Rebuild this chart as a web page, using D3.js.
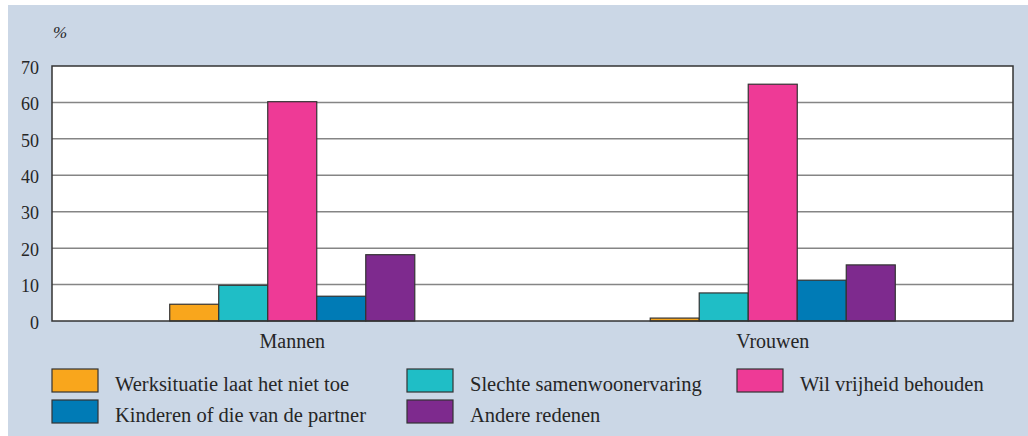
<!DOCTYPE html>
<html><head><meta charset="utf-8">
<script src="https://cdn.jsdelivr.net/npm/d3@7"></script>
<style>
body{margin:0;background:#fff} svg{display:block}
.sf{font-family:"Liberation Serif";}
</style>
</head><body><svg id="c" width="1028" height="436"></svg>
<script>
const categories = ["Mannen", "Vrouwen"];
const seriesNames = ["Werksituatie laat het niet toe", "Slechte samenwoonervaring", "Wil vrijheid behouden", "Kinderen of die van de partner", "Andere redenen"];
const mannen = [4.6, 9.8, 60.2, 6.8, 18.2];
const vrouwen = [0.8, 7.7, 65.0, 11.2, 15.4];
const yTicks = [0, 10, 20, 30, 40, 50, 60, 70];
const colors = ["#f9a61c", "#1fbec6", "#ee3a96", "#007bb6", "#7e2a8e"];

const values = { "Mannen": mannen, "Vrouwen": vrouwen };
const TXT = "#262626";
const svg = d3.select("#c");

svg.append("rect").attr("x", 8).attr("y", 5).attr("width", 1020).attr("height", 431).attr("fill", "#cbd7e6");

const L = 52, R = 1013, T = 66, B = 321;
const y = d3.scaleLinear().domain([0, 70]).range([B, T]);
const x0 = d3.scaleBand().domain(categories).range([L, R]).paddingInner(0.49).paddingOuter(0.245);
const x1 = d3.scaleBand().domain(seriesNames).range([0, x0.bandwidth()]);
const color = d3.scaleOrdinal().domain(seriesNames).range(colors);

svg.append("rect").attr("x", L).attr("y", T).attr("width", R - L).attr("height", B - T).attr("fill", "#fff");

// gridlines
svg.append("g").selectAll("line").data(yTicks.filter(d => d > 0 && d < 70)).join("line")
  .attr("x1", L).attr("x2", R).attr("y1", d => y(d)).attr("y2", d => y(d))
  .attr("stroke", "#858585").attr("stroke-width", 1.5);

// y axis labels
const yAxis = d3.axisLeft(y).tickValues(yTicks).tickSize(0).tickPadding(13).tickFormat(d3.format("d"));
const ga = svg.append("g").attr("transform", `translate(${L},0)`).call(yAxis);
ga.select(".domain").remove();
ga.attr("font-family", "Liberation Serif").attr("font-size", 18);
ga.selectAll("text").attr("class", "sf").attr("font-family", "Liberation Serif").attr("fill", TXT).attr("dy", "0.4em");

// bars
const groups = svg.append("g").selectAll("g").data(categories).join("g")
  .attr("transform", d => `translate(${x0(d)},0)`);
groups.selectAll("rect").data(c => seriesNames.map((s, i) => ({ s, v: values[c][i] }))).join("rect")
  .attr("x", d => x1(d.s)).attr("width", x1.bandwidth())
  .attr("y", d => y(d.v)).attr("height", d => y(0) - y(d.v))
  .attr("fill", d => color(d.s)).attr("stroke", "#333").attr("stroke-width", 1.2);

// frame
svg.append("rect").attr("x", L).attr("y", T).attr("width", R - L).attr("height", B - T)
  .attr("fill", "none").attr("stroke", "#333").attr("stroke-width", 1.5);

// x axis labels
const xAxis = d3.axisBottom(x0).tickSize(0).tickPadding(10);
const gx = svg.append("g").attr("transform", `translate(0,${B})`).call(xAxis);
gx.select(".domain").remove();
gx.attr("font-family", "Liberation Serif").attr("font-size", 20);
gx.selectAll("text").attr("class", "sf").attr("font-family", "Liberation Serif").attr("fill", TXT).attr("dy", "0.85em");

// % label
svg.append("text").attr("class", "sf").attr("font-family", "Liberation Serif").attr("x", 53).attr("y", 38)
  .attr("font-style", "italic").attr("font-size", 17).attr("fill", TXT).text("%");

// legend
const colX = [52, 407, 737];
const rowY = [369, 400];
const leg = svg.append("g").selectAll("g").data(seriesNames).join("g")
  .attr("transform", (d, i) => `translate(${colX[i % 3]},${rowY[Math.floor(i / 3)]})`);
leg.append("rect").attr("width", 46).attr("height", 23).attr("fill", d => color(d)).attr("stroke", "#333").attr("stroke-width", 1.2);
leg.append("text").attr("class", "sf").attr("font-family", "Liberation Serif").attr("x", 63).attr("y", 22)
  .attr("font-size", 20.5).attr("fill", TXT).text(d => d);
</script></body></html>
